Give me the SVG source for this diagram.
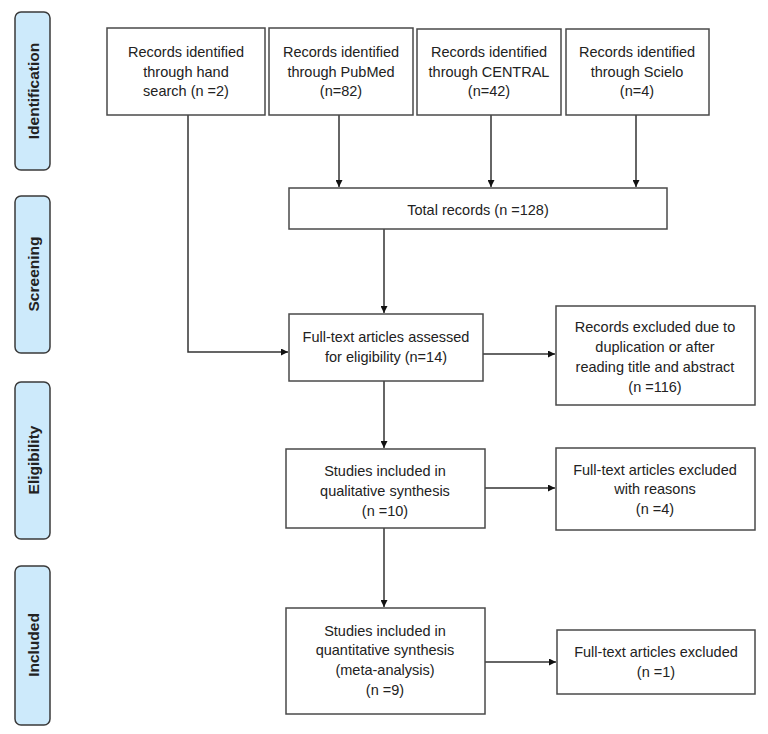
<svg xmlns="http://www.w3.org/2000/svg" width="768" height="734" viewBox="0 0 768 734">
<defs>
<style>
.box{fill:#fff;stroke:#4a4a4a;stroke-width:1.5}
.side{fill:#cdeafb;stroke:#3a3a3a;stroke-width:1.5}
.t{font-family:"Liberation Sans",Arial,sans-serif;font-size:14.5px;fill:#222;text-anchor:middle;dominant-baseline:central}
.s{font-family:"Liberation Sans",Arial,sans-serif;font-size:15.5px;font-weight:bold;fill:#222;text-anchor:middle;dominant-baseline:central}
.c{fill:none;stroke:#333;stroke-width:1.5}
</style>
<marker id="ah" viewBox="0 0 10 10" refX="10" refY="5" markerWidth="7" markerHeight="7" orient="auto" markerUnits="userSpaceOnUse">
<path d="M0,0 L10,5 L0,10 z" fill="#111"/>
</marker>
</defs>
<rect width="768" height="734" fill="#fff"/>

<g id="side-identification"><rect class="side" x="15" y="12" width="35" height="158" rx="6"/><text class="s" transform="translate(33,91) rotate(-90)">Identification</text></g>
<g id="side-screening"><rect class="side" x="15" y="196" width="35" height="157" rx="6"/><text class="s" transform="translate(33,274) rotate(-90)">Screening</text></g>
<g id="side-eligibility"><rect class="side" x="15" y="382" width="35" height="157" rx="6"/><text class="s" transform="translate(33,460) rotate(-90)">Eligibility</text></g>
<g id="side-included"><rect class="side" x="15" y="566" width="35" height="159" rx="6"/><text class="s" transform="translate(33,645) rotate(-90)">Included</text></g>

<g id="connectors">
<polyline class="c" points="188,115 188,352 288,352" marker-end="url(#ah)"/>
<line class="c" x1="339" y1="115" x2="339" y2="187" marker-end="url(#ah)"/>
<line class="c" x1="491" y1="115" x2="491" y2="187" marker-end="url(#ah)"/>
<line class="c" x1="636" y1="115" x2="636" y2="187" marker-end="url(#ah)"/>
<line class="c" x1="384" y1="229" x2="384" y2="313" marker-end="url(#ah)"/>
<line class="c" x1="483" y1="354" x2="555" y2="354" marker-end="url(#ah)"/>
<line class="c" x1="384" y1="381" x2="384" y2="448" marker-end="url(#ah)"/>
<line class="c" x1="485" y1="488" x2="555" y2="488" marker-end="url(#ah)"/>
<line class="c" x1="384" y1="528" x2="384" y2="607" marker-end="url(#ah)"/>
<line class="c" x1="485" y1="662" x2="556" y2="662" marker-end="url(#ah)"/>
</g>

<g id="hand"><rect class="box" x="107" y="28" width="158" height="87"/>
<text class="t" x="186" y="52">Records identified</text><text class="t" x="186" y="72">through hand</text><text class="t" x="186" y="91">search (n =2)</text></g>
<g id="pubmed"><rect class="box" x="269" y="28" width="144" height="87"/>
<text class="t" x="341" y="52">Records identified</text><text class="t" x="341" y="72">through PubMed</text><text class="t" x="341" y="91">(n=82)</text></g>
<g id="central"><rect class="box" x="417" y="29" width="144" height="86"/>
<text class="t" x="489" y="52">Records identified</text><text class="t" x="489" y="72">through CENTRAL</text><text class="t" x="489" y="91">(n=42)</text></g>
<g id="scielo"><rect class="box" x="566" y="29" width="143" height="86"/>
<text class="t" x="637" y="52">Records identified</text><text class="t" x="637" y="72">through Scielo</text><text class="t" x="637" y="91">(n=4)</text></g>

<g id="total"><rect class="box" x="289" y="188" width="378" height="41"/>
<text class="t" x="478" y="210">Total records (n =128)</text></g>

<g id="fulltext"><rect class="box" x="289" y="314" width="194" height="67"/>
<text class="t" x="386" y="337">Full-text articles assessed</text><text class="t" x="386" y="357">for eligibility (n=14)</text></g>

<g id="excluded1"><rect class="box" x="556" y="306" width="199" height="99"/>
<text class="t" x="655" y="327">Records excluded due to</text><text class="t" x="655" y="347">duplication or after</text><text class="t" x="655" y="367">reading title and abstract</text><text class="t" x="655" y="387">(n =116)</text></g>

<g id="qualitative"><rect class="box" x="286" y="449" width="199" height="79"/>
<text class="t" x="385" y="471">Studies included in</text><text class="t" x="385" y="491">qualitative synthesis</text><text class="t" x="385" y="511">(n =10)</text></g>

<g id="excluded2"><rect class="box" x="556" y="448" width="199" height="82"/>
<text class="t" x="655" y="470">Full-text articles excluded</text><text class="t" x="655" y="489">with reasons</text><text class="t" x="655" y="509">(n =4)</text></g>

<g id="quantitative"><rect class="box" x="286" y="608" width="199" height="106"/>
<text class="t" x="385" y="631">Studies included in</text><text class="t" x="385" y="650">quantitative synthesis</text><text class="t" x="385" y="670">(meta-analysis)</text><text class="t" x="385" y="690">(n =9)</text></g>

<g id="excluded3"><rect class="box" x="557" y="630" width="198" height="64"/>
<text class="t" x="656" y="652">Full-text articles excluded</text><text class="t" x="656" y="672">(n =1)</text></g>
</svg>
